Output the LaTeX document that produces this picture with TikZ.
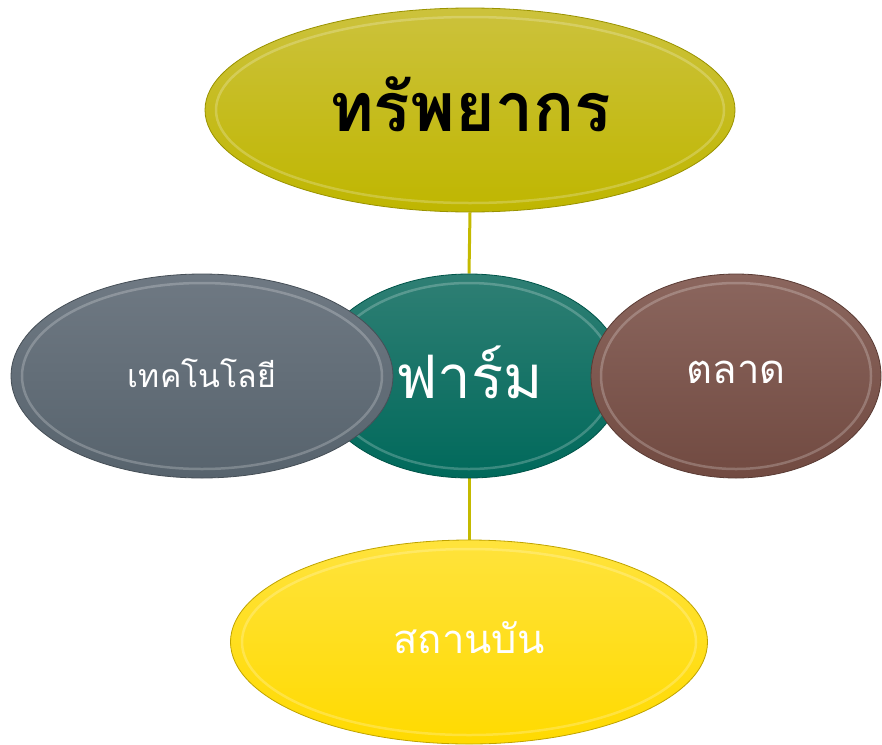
\documentclass[tikz,border=0pt]{standalone}
\usepackage{fontspec}
\newfontfamily\thaifont[Script=Thai]{Loma}
\usetikzlibrary{shapes.geometric}
\pgfdeclarelayer{background}
\pgfsetlayers{background,main}
\definecolor{topL}{HTML}{CCC23C}
\definecolor{topD}{HTML}{BFB600}
\definecolor{farmL}{HTML}{2F7F74}
\definecolor{farmD}{HTML}{00695B}
\definecolor{techL}{HTML}{6F7983}
\definecolor{techD}{HTML}{57636D}
\definecolor{mktL}{HTML}{8B665E}
\definecolor{mktD}{HTML}{714A41}
\definecolor{instL}{HTML}{FFE33C}
\definecolor{instD}{HTML}{FFDA00}
\definecolor{linkc}{HTML}{C4BA00}
\tikzset{
  bubble/.style={ellipse, inner sep=0pt, line width=0.8pt, font=\thaifont},
  bevel/.style={line width=2.5pt, white, opacity=0.22},
  link/.style={line width=3pt, linkc}
}
\begin{document}
\begin{tikzpicture}[x=1pt,y=-1pt]
\useasboundingbox (0,0) rectangle (882,744);
% centre
\node[bubble, minimum width=310, minimum height=204, top color=farmL, bottom color=farmD, draw=farmD!80!black] (farm) at (469,376) {};
\draw[bevel] (farm.center) ellipse [x radius=145, y radius=93];
\node[font=\thaifont\fontsize{60}{60}\selectfont, white] (farmt) at (469,372) {ฟาร์ม};
% left
\node[bubble, minimum width=382, minimum height=204, top color=techL, bottom color=techD, draw=techD!80!black] (tech) at (202,376) {};
\draw[bevel] (tech.center) ellipse [x radius=180, y radius=93];
\node[font=\thaifont\fontsize{32}{32}\selectfont, white] (techt) at (202,373) {เทคโนโลยี};
% right
\node[bubble, minimum width=290, minimum height=204, top color=mktL, bottom color=mktD, draw=mktD!80!black] (mkt) at (736,376) {};
\draw[bevel] (mkt.center) ellipse [x radius=135, y radius=93];
\node[font=\thaifont\fontsize{40}{40}\selectfont, white] (mktt) at (736,372) {ตลาด};
% top
\node[bubble, minimum width=530, minimum height=204, top color=topL, bottom color=topD, draw=topD!80!black] (res) at (470,110) {};
\draw[bevel] (res.center) ellipse [x radius=254, y radius=93];
\node[font=\thaifont\bfseries\fontsize{68}{68}\selectfont, black] (rest) at (470,104) {ทรัพยากร};
% bottom
\node[bubble, minimum width=477, minimum height=204, top color=instL, bottom color=instD, draw=instD!75!black] (inst) at (469,642) {};
\draw[bevel] (inst.center) ellipse [x radius=227, y radius=93];
\node[font=\thaifont\fontsize{40}{40}\selectfont, white] (instt) at (469,638) {สถานบัน};
\begin{pgfonlayer}{background}
\draw[link] (res.south) -- (farm.north);
\draw[link] (farm.south) -- (inst.north);
\end{pgfonlayer}
\end{tikzpicture}
\end{document}
